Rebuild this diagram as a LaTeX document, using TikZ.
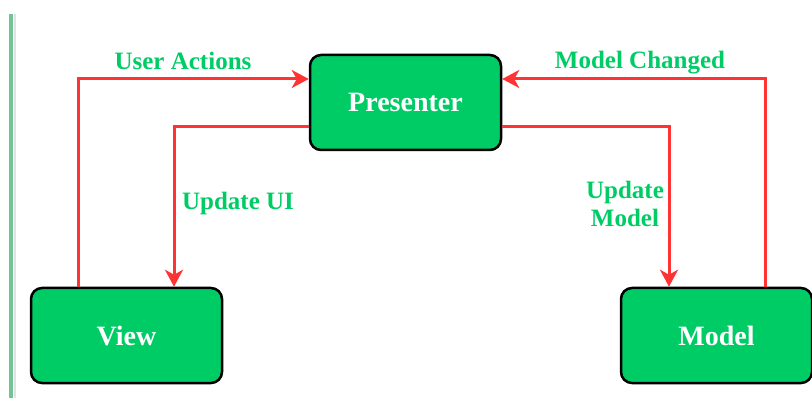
\documentclass[tikz,border=0pt]{standalone}
\usepackage{fontspec}
\setmainfont{Liberation Serif}
\usetikzlibrary{arrows.meta}
\definecolor{boxgreen}{RGB}{0,204,102}
\definecolor{lblgreen}{RGB}{0,204,102}
\definecolor{arrred}{RGB}{255,51,51}
\definecolor{edgegreen}{RGB}{112,196,150}
\definecolor{edgegray}{RGB}{226,226,226}
\tikzset{
  box/.style={draw=black, line width=2.5pt, fill=boxgreen, rounded corners=11pt,
    minimum width=191pt, minimum height=95pt, inner sep=0pt,
    text=white, font=\fontsize{28}{32}\selectfont\bfseries},
  lbl/.style={text=lblgreen, inner sep=0pt, align=center,
    font=\fontsize{25}{28}\selectfont\bfseries},
  arr/.style={draw=arrred, line width=3pt,
    -{Stealth[length=17pt, width=18pt, inset=5pt]}}
}
\begin{document}
\begin{tikzpicture}[x=1pt,y=-1pt]
\useasboundingbox (0,0) rectangle (812,398);
\fill[edgegreen] (9,14) rectangle (12.5,398);
\fill[edgegray] (13.5,14) rectangle (16,398);

\node[box] (P) at (405.5,102.5) {Presenter};
\node[box] (V) at (126.5,335.5) {View};
\node[box] (M) at (716.5,335.5) {Model};

\draw[arr] (V.north -| 78,0) |- (P.west |- 0,79);
\draw[arr] (P.west |- 0,127) -| (V.north -| 174,0);
\draw[arr] (M.north -| 765,0) |- (P.east |- 0,79);
\draw[arr] (P.east |- 0,127) -| (M.north -| 669,0);

\node[lbl, anchor=base] (ua) at (183,70) {User Actions};
\node[lbl, anchor=base] (mc) at (640,69) {Model Changed};
\node[lbl, anchor=base] (uu) at (238,210) {Update UI};
\node[lbl] (um) at (625,204) {Update\\Model};
\end{tikzpicture}
\end{document}
